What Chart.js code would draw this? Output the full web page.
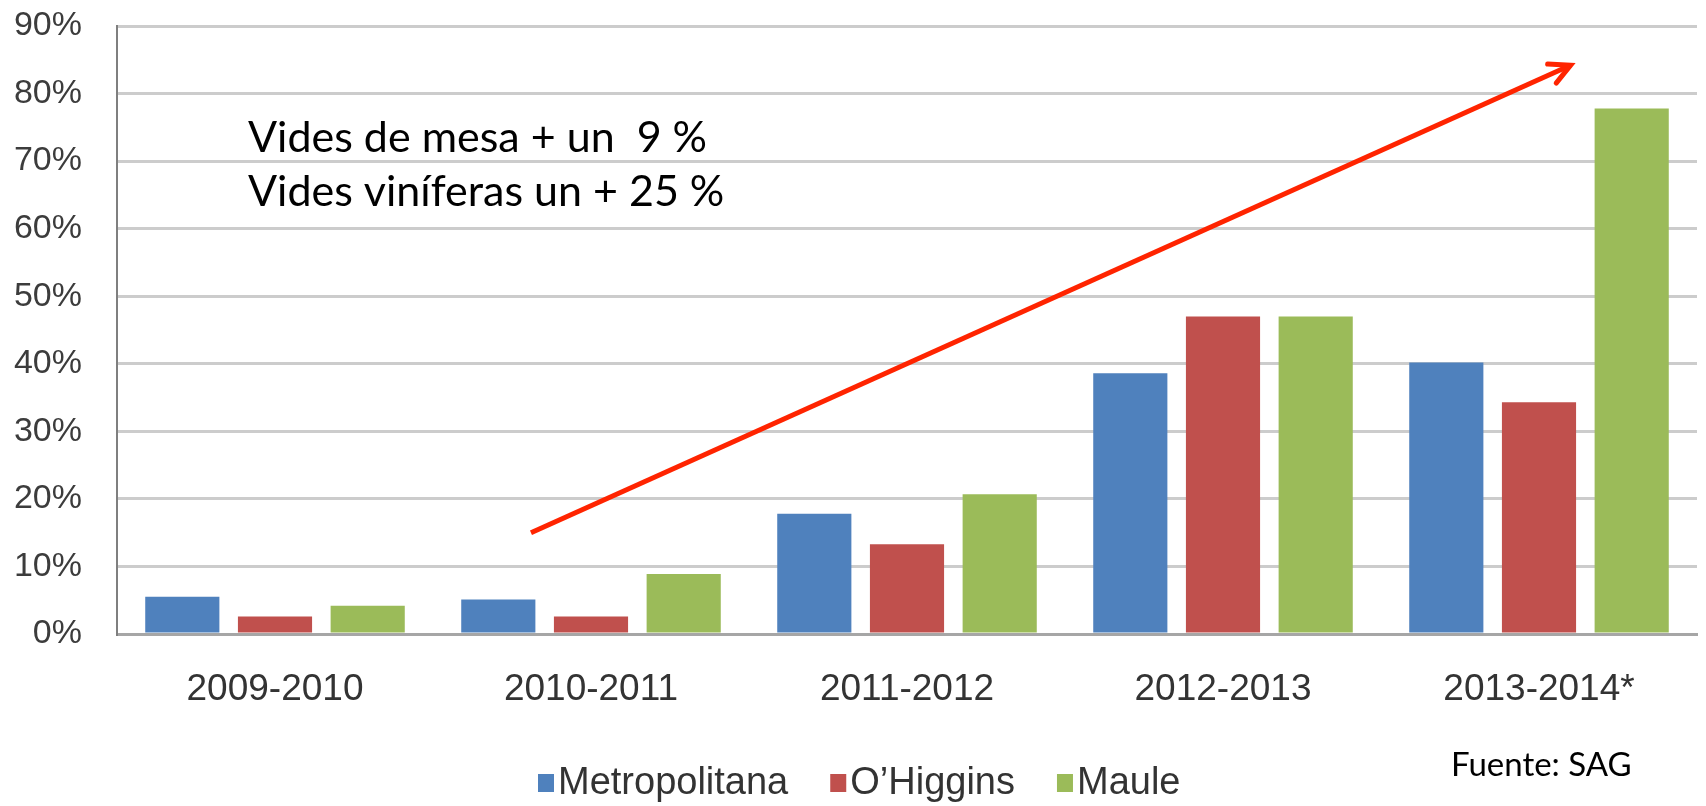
<!DOCTYPE html>
<html>
<head>
<meta charset="utf-8">
<script src="https://cdn.jsdelivr.net/npm/chart.js@4.4.0/dist/chart.umd.min.js"></script>
<style>
  html, body { margin: 0; padding: 0; background: #fff; }
  canvas { display: block; }
</style>
</head>
<body>
<canvas id="chart" width="1706" height="806"></canvas>
<script>
// === Data ===
const seasons = ["2009-2010", "2010-2011", "2011-2012", "2012-2013", "2013-2014*"];
const metropolitana = [5.5, 5.1, 17.8, 38.6, 40.2];
const ohiggins = [2.6, 2.6, 13.3, 47.0, 34.3];
const maule = [4.2, 8.9, 20.7, 47.0, 77.8];
const yTicks = [0, 10, 20, 30, 40, 50, 60, 70, 80, 90];

const noteLines = ["Vides de mesa + un  9 %", "Vides viníferas un + 25 %"];
const sourceText = "Fuente: SAG";

// arrow from/to in data units (category index, percent)
const arrowFrom = { x: 0.81, y: 15.0 };
const arrowTo = { x: 4.10, y: 84.2 };

const AXIS_FONT = "'Liberation Sans', Arial, sans-serif";
const NOTE_FONT = "Lato, 'Open Sans', sans-serif";

// === Annotations: text, arrow, legend ===
const extras = {
  id: "extras",
  afterDatasetsDraw(chart) {
    const ctx = chart.ctx;
    const xs = chart.scales.x;
    const ys = chart.scales.y;

    // red arrow
    const x1 = xs.getPixelForValue(arrowFrom.x), y1 = ys.getPixelForValue(arrowFrom.y);
    const x2 = xs.getPixelForValue(arrowTo.x), y2 = ys.getPixelForValue(arrowTo.y);
    const ang = Math.atan2(y2 - y1, x2 - x1);
    const head = 23, spread = 27 * Math.PI / 180;
    ctx.save();
    ctx.strokeStyle = "#ff2400";
    ctx.lineWidth = 5;
    ctx.lineCap = "butt";
    ctx.beginPath();
    ctx.moveTo(x1, y1);
    ctx.lineTo(x2, y2);
    ctx.stroke();
    ctx.lineCap = "round";
    ctx.beginPath();
    ctx.moveTo(x2 - head * Math.cos(ang - spread), y2 - head * Math.sin(ang - spread));
    ctx.lineTo(x2, y2);
    ctx.lineTo(x2 - head * Math.cos(ang + spread), y2 - head * Math.sin(ang + spread));
    ctx.stroke();
    ctx.restore();
  },
  afterDraw(chart) {
    const ctx = chart.ctx;
    ctx.save();
    // note text
    ctx.fillStyle = "#000";
    ctx.font = "43px " + NOTE_FONT;
    ctx.textAlign = "left";
    ctx.textBaseline = "alphabetic";
    ctx.fillText(noteLines[0], 248, 152);
    ctx.fillText(noteLines[1], 248, 206);

    // source
    ctx.font = "33px " + NOTE_FONT;
    ctx.fillText(sourceText, 1451, 776);

    // legend
    ctx.font = "38px " + AXIS_FONT;
    ctx.textBaseline = "middle";
    let lx = 538;
    const ly = 783;
    chart.data.datasets.forEach((ds) => {
      ctx.fillStyle = ds.backgroundColor;
      ctx.fillRect(lx, ly - 9, 16, 18);
      lx += 20;
      ctx.fillStyle = "#333333";
      ctx.fillText(ds.label, lx, ly + 1);
      lx += ctx.measureText(ds.label).width + 42;
    });
    ctx.restore();
  },
};

const ctx = document.getElementById("chart").getContext("2d");
new Chart(ctx, {
  type: "bar",
  data: {
    labels: seasons,
    datasets: [
      { label: "Metropolitana", data: metropolitana, backgroundColor: "#4f81bd" },
      { label: "O’Higgins", data: ohiggins, backgroundColor: "#c0504d" },
      { label: "Maule", data: maule, backgroundColor: "#9bbb59" },
    ],
  },
  options: {
    responsive: false,
    animation: false,
    devicePixelRatio: 1,
    layout: { padding: { top: 26, right: 9, bottom: 0, left: 0 } },
    datasets: {
      bar: { barPercentage: 0.8, categoryPercentage: 0.88, borderWidth: 0 },
    },
    plugins: {
      legend: { display: false },
      tooltip: { enabled: false },
    },
    scales: {
      x: {
        grid: { display: false, drawTicks: false },
        border: { display: true, color: "#a6a6a6", width: 3 },
        ticks: {
          color: "#333333",
          font: { family: AXIS_FONT, size: 37 },
          padding: 34,
          maxRotation: 0,
          autoSkip: false,
        },
        afterFit: (scale) => { scale.height = 172; scale.paddingTop = 0; scale.paddingBottom = 0; },
      },
      y: {
        min: 0,
        max: 90,
        afterBuildTicks: (scale) => { scale.ticks = yTicks.map((v) => ({ value: v })); },
        grid: { color: "#cccccc", lineWidth: 3, drawTicks: false },
        border: { display: true, color: "#7f7f7f", width: 2 },
        ticks: {
          color: "#3c3c3c",
          font: { family: AXIS_FONT, size: 34 },
          padding: 35,
          callback: (v) => v + "%",
        },
        afterFit: (scale) => { scale.width = 117; scale.paddingTop = 0; scale.paddingBottom = 0; },
      },
    },
  },
  plugins: [extras],
});
</script>
</body>
</html>
